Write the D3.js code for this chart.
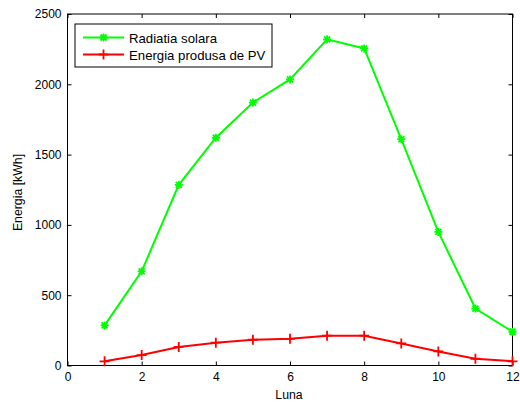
<!DOCTYPE html>
<html><head><meta charset="utf-8">
<script src="https://cdn.jsdelivr.net/npm/d3@7"></script>
<style>body{margin:0;background:#fff}svg{display:block;font-family:"Liberation Sans",Arial,sans-serif}</style>
</head><body><svg id="c" width="520" height="402"></svg>
<script>
const months = [1,2,3,4,5,6,7,8,9,10,11,12];
const radiatie = [285,670,1285,1620,1870,2035,2320,2255,1610,950,405,240];
const energiePV = [30,74,132,162,183,190,212,212,157,100,48,30];
const xTicks = [0,2,4,6,8,10,12];
const yTicks = [0,500,1000,1500,2000,2500];
const seriesNames = ["Radiatia solara","Energia produsa de PV"];

const svg = d3.select("#c");
const L=67.5, R=512.5, T=14, B=365.5;
const x = d3.scaleLinear().domain([0,12]).range([L,R]);
const y = d3.scaleLinear().domain([0,2500]).range([B,T]);

svg.append("rect").attr("x",L).attr("y",T).attr("width",R-L).attr("height",B-T)
  .attr("fill","none").attr("stroke","#000").attr("stroke-width",1);

const xb = svg.append("g").attr("transform",`translate(0,${B})`)
  .call(d3.axisBottom(x).tickValues(xTicks).tickSize(-4).tickPadding(7).tickFormat(d3.format("d")));
const xt = svg.append("g").attr("transform",`translate(0,${T})`)
  .call(d3.axisTop(x).tickValues(xTicks).tickSize(-4).tickFormat(""));
const yl = svg.append("g").attr("transform",`translate(${L},0)`)
  .call(d3.axisLeft(y).tickValues(yTicks).tickSize(-4).tickPadding(6).tickFormat(d3.format("d")));
const yr = svg.append("g").attr("transform",`translate(${R},0)`)
  .call(d3.axisRight(y).tickValues(yTicks).tickSize(-4).tickFormat(""));
[xb,xt,yl,yr].forEach(g=>{
  g.select(".domain").remove();
  g.selectAll("line").attr("stroke","#000");
  g.selectAll("text").attr("font-size",12).attr("fill","#000").attr("font-family",'"Liberation Sans",Arial,sans-serif');
});

const line = d3.line().x((d,i)=>x(months[i])).y(d=>y(d));
function star(g,cx,cy,color){
  const s=4;
  g.append("path").attr("d",`M${cx-s},${cy}H${cx+s}M${cx},${cy-s}V${cy+s}M${cx-s*0.75},${cy-s*0.75}L${cx+s*0.75},${cy+s*0.75}M${cx-s*0.75},${cy+s*0.75}L${cx+s*0.75},${cy-s*0.75}`)
    .attr("stroke",color).attr("stroke-width",1.8).attr("fill","none");
}
function plus(g,cx,cy,color){
  const s=5;
  g.append("path").attr("d",`M${cx-s},${cy}H${cx+s}M${cx},${cy-s}V${cy+s}`)
    .attr("stroke",color).attr("stroke-width",1.8).attr("fill","none");
}
svg.append("path").datum(radiatie).attr("d",line).attr("fill","none").attr("stroke","#00ff00").attr("stroke-width",2);
const gm = svg.append("g");
radiatie.forEach((v,i)=>star(gm,x(months[i]),y(v),"#00ff00"));
svg.append("path").datum(energiePV).attr("d",line).attr("fill","none").attr("stroke","#ff0000").attr("stroke-width",2);
energiePV.forEach((v,i)=>plus(gm,x(months[i]),y(v),"#ff0000"));

const lg = svg.append("g");
lg.append("rect").attr("x",75).attr("y",24).attr("width",197).attr("height",43).attr("fill","#fff").attr("stroke","#000");
const rows=[{n:seriesNames[0],c:"#00ff00",m:star,yy:37.5},{n:seriesNames[1],c:"#ff0000",m:plus,yy:54.5}];
rows.forEach(r=>{
  lg.append("line").attr("x1",83).attr("x2",124).attr("y1",r.yy).attr("y2",r.yy).attr("stroke",r.c).attr("stroke-width",2);
  r.m(lg,103.5,r.yy,r.c);
  lg.append("text").attr("x",129).attr("y",r.yy+5).attr("font-size",13.2).text(r.n);
});

svg.append("text").attr("x",289).attr("y",399).attr("text-anchor","middle").attr("font-size",12.3).text("Luna");
svg.append("text").attr("transform","translate(21.5,192.5) rotate(-90)").attr("text-anchor","middle").attr("font-size",12.3).text("Energia [kWh]");
</script></body></html>
